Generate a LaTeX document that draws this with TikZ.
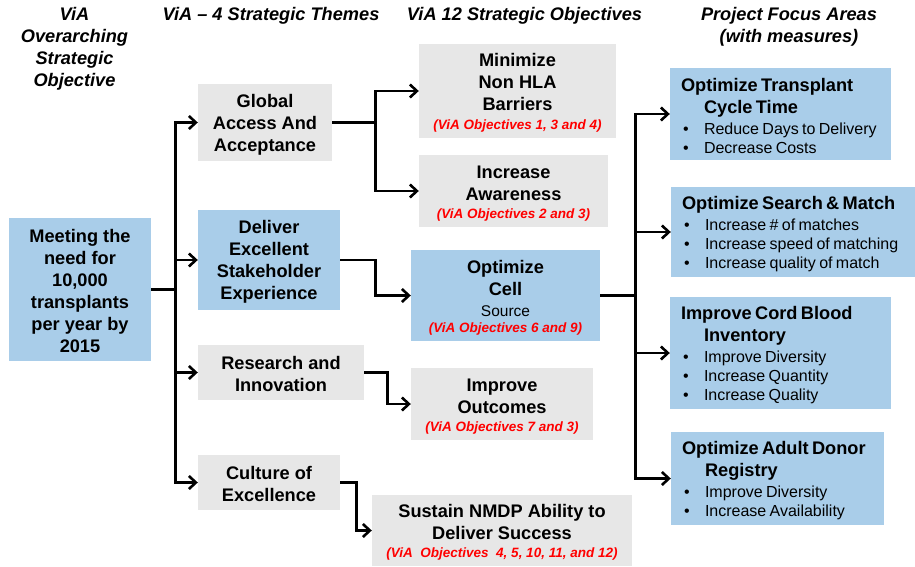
\documentclass[tikz,border=0pt]{standalone}
\usepackage{fontspec}
\setmainfont{Liberation Sans}
\usetikzlibrary{arrows.meta}
\setlength{\parindent}{0pt}
\definecolor{vblue}{RGB}{169,205,233}
\definecolor{vgray}{RGB}{231,231,231}
\definecolor{vred}{RGB}{255,0,0}
\newcommand\tp{\rule{0pt}{17pt}}
\newcommand\redobj[1]{{\color{vred}\fontsize{13.5}{16}\selectfont\bfseries\itshape #1}}
\newcommand\plain[1]{{\fontsize{15.5}{19}\selectfont\mdseries #1}}
\newcommand\ftitle[1]{{\fontsize{18.2}{22}\selectfont\bfseries\rule{0pt}{17.5pt}#1\par}\vspace{2pt}}
\newcommand\fitem[1]{{\fontsize{16}{19}\selectfont\makebox[23pt][l]{\hspace{2pt}\textbullet}#1\par}}
\tikzset{
  box/.style={inner sep=0pt, align=center, font=\fontsize{18.2}{22}\selectfont\bfseries},
  bluebox/.style={box, fill=vblue},
  graybox/.style={box, fill=vgray},
  focus/.style={fill=vblue, inner xsep=11pt, inner ysep=0pt, align=left},
  head/.style={align=center, font=\fontsize{18.2}{22}\selectfont\bfseries\itshape},
  conn/.style={line width=2.6pt, -{Straight Barb[length=7pt,width=13pt]}}
}
\begin{document}
\begin{tikzpicture}[x=1pt,y=-1pt]
  \useasboundingbox (0,0) rectangle (915,567);
  \node[head] (hd1) at (74.5,48.5) {ViA\\Overarching\\Strategic\\Objective};
  \node[head] (hd2) at (271,15.5) {ViA -- 4 Strategic Themes};
  \node[head] (hd3) at (524.5,15.5) {ViA 12 Strategic Objectives};
  \node[head] (hd4) at (789,26.5) {Project Focus Areas\\(with measures)};

  \node[bluebox, minimum width=142pt, minimum height=143pt] (meet) at (80,289.5)
    {\tp Meeting the\\need for\\10,000\\transplants\\per year by\\2015};

  \node[graybox, minimum width=134pt, minimum height=77pt] (global) at (265,122.5)
    {\tp Global\\Access And\\Acceptance};
  \node[bluebox, minimum width=142pt, minimum height=100pt] (deliver) at (269,260)
    {\tp Deliver\\Excellent\\Stakeholder\\Experience};
  \node[graybox, minimum width=166pt, minimum height=55pt] (research) at (281,372.5)
    {\tp Research and\\Innovation};
  \node[graybox, minimum width=142pt, minimum height=55pt] (culture) at (269,482.5)
    {\tp Culture of\\Excellence};

  \node[graybox, minimum width=197pt, minimum height=94pt] (minimize) at (517.5,91)
    {\tp Minimize\\Non HLA\\Barriers\\[-3pt]\redobj{(ViA Objectives 1, 3 and 4)}};
  \node[graybox, minimum width=189pt, minimum height=72pt] (aware) at (513.5,191)
    {\tp Increase\\Awareness\\[-4pt]\redobj{(ViA Objectives 2 and 3)}};
  \node[bluebox, minimum width=189pt, minimum height=91pt] (cell) at (505.5,295.5)
    {\tp Optimize\\Cell\\[-1pt]\plain{Source}\\[-6pt]\redobj{(ViA Objectives 6 and 9)}};
  \node[graybox, minimum width=182pt, minimum height=72pt] (outcome) at (502,404)
    {\rule{0pt}{18pt}Improve\\Outcomes\\[-4pt]\redobj{(ViA Objectives 7 and 3)}};
  \node[graybox, minimum width=260pt, minimum height=71pt] (sustain) at (502,530.5)
    {\tp Sustain NMDP Ability to\\Deliver Success\\[-4pt]\redobj{(ViA~~Objectives~~4, 5, 10, 11, and 12)}};

  \node[focus, text width=199pt, minimum height=92pt] (ftime) at (780.5,114)
    {\ftitle{Optimize Transplant\\\hspace*{23pt}Cycle Time}\fitem{Reduce Days to Delivery}\fitem{Decrease Costs}};
  \node[focus, text width=222pt, minimum height=90pt] (fmatch) at (793,232)
    {\ftitle{Optimize Search \& Match}\fitem{Increase \# of matches}\fitem{Increase speed of matching}\fitem{Increase quality of match}};
  \node[focus, text width=199pt, minimum height=112pt] (fcord) at (780.5,353)
    {\ftitle{Improve Cord Blood\\\hspace*{23pt}Inventory}\fitem{Improve Diversity}\fitem{Increase Quantity}\fitem{Increase Quality}};
  \node[focus, text width=191pt, minimum height=93pt] (fadult) at (777.5,478.5)
    {\ftitle{Optimize Adult Donor\\\hspace*{23pt}Registry}\fitem{Improve Diversity}\fitem{Increase Availability}};

  \foreach \t in {global,deliver,research,culture}
    \draw[conn] (meet.east) -- ++(24,0) |- (\t.west);
  \foreach \t in {minimize,aware}
    \draw[conn] (global.east) -- ++(43,0) |- (\t.west);
  \draw[conn] (deliver.east) -- ++(35,0) |- (cell.west);
  \draw[conn] (research.east) -- ++(23,0) |- (outcome.west);
  \draw[conn] (culture.east) -- ++(16,0) |- (sustain.west);
  \foreach \t in {ftime,fmatch,fcord,fadult}
    \draw[conn] (cell.east) -- ++(35,0) |- (\t.west);
\end{tikzpicture}
\end{document}
